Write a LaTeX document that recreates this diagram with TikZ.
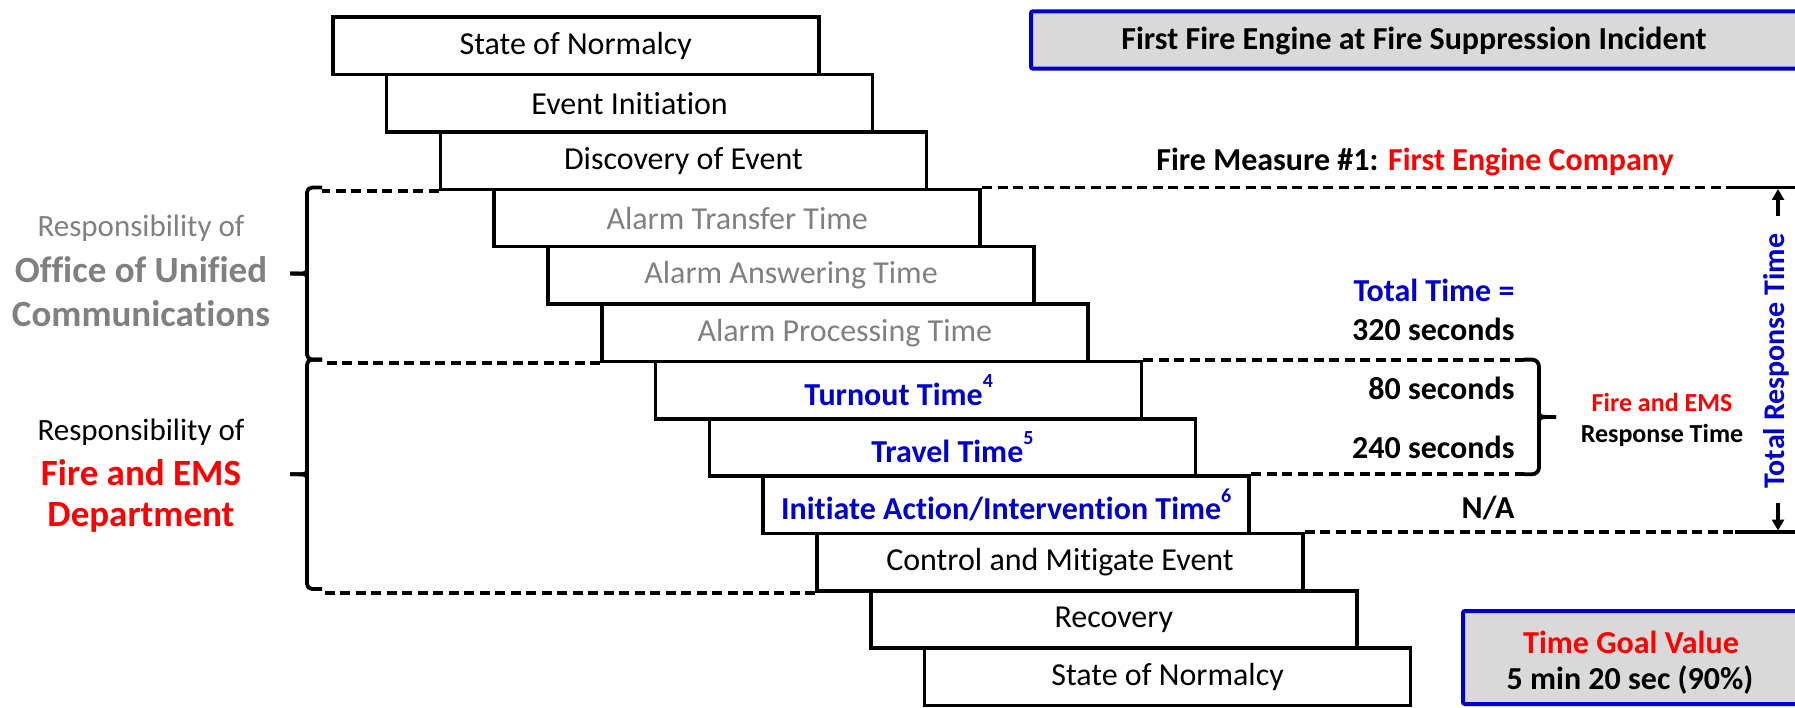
\documentclass[tikz,border=0pt]{standalone}
\usepackage{fontspec}
\setmainfont[Ligatures={NoCommon}]{Carlito}
\usetikzlibrary{arrows.meta}
\definecolor{dblue}{RGB}{0,0,204}
\definecolor{fred}{RGB}{255,0,0}
\definecolor{mgray}{RGB}{128,128,128}
\definecolor{lgray}{RGB}{217,217,217}
\newcommand{\fsz}[2]{\fontsize{#1}{#2}\selectfont}
\newcommand{\sups}[1]{\raisebox{0.55em}{\fsz{20}{20}#1}}
\begin{document}
\begin{tikzpicture}[x=1pt,y=-1pt,
  stepbox/.style={draw, line width=3.6pt, minimum width=486pt, minimum height=57.35pt,
     anchor=north west, inner sep=0pt, font=\fsz{32}{38}},
  graytxt/.style={text=mgray},
  bluetxt/.style={text=dblue, font=\fsz{32}{38}\bfseries},
  dashline/.style={line width=3.8pt, dash pattern=on 10pt off 5.5pt},
  solidline/.style={line width=3.8pt},
  bracel/.style={line width=3.8pt, rounded corners=5pt},
  infobox/.style={draw=dblue, line width=4pt, fill=lgray, rounded corners=2pt},
  bold32/.style={font=\fsz{32}{38}\bfseries},
  arr/.style={line width=3.6pt, -{Triangle[width=12pt,length=11pt]}}
]
\useasboundingbox (0,0) rectangle (1795,708);

% boxes
\node[stepbox] (b0) at (331,15.5) {State of Normalcy};
\node[stepbox] (b1) at (384.8,72.85) {Event Initiation};
\node[stepbox] (b2) at (438.6,130.2) {Discovery of Event};
\node[stepbox, graytxt] (b3) at (492.4,187.55) {Alarm Transfer Time};
\node[stepbox, graytxt] (b4) at (546.2,244.9) {Alarm Answering Time};
\node[stepbox, graytxt] (b5) at (600,302.25) {Alarm Processing Time};
\node[stepbox, bluetxt] (b6) at (653.8,359.6) {Turnout Time\sups{4}};
\node[stepbox, bluetxt] (b7) at (707.6,416.95) {Travel Time\sups{5}};
\node[stepbox, bluetxt] (b8) at (761.4,474.3) {Initiate Action/Intervention Time\sups{6}};
\node[stepbox] (b9) at (815.2,531.65) {Control and Mitigate Event};
\node[stepbox] (b10) at (869,589) {Recovery};
\node[stepbox] (b11) at (922.8,646.35) {State of Normalcy};

% helper coordinates
\coordinate (lx) at (322,0);
\coordinate (rx) at (1735,0);
\coordinate (ex) at (1795,0);
\coordinate (bx) at (1524,0);

% left dashed lines
\draw[dashline] (b2.south west) -- (b2.south west -| lx);
\draw[dashline] (b5.south west) -- (b5.south west -| lx);
\draw[dashline] (b9.south west) -- (b9.south west -| lx);

% right dashed lines
\draw[dashline] (b3.north east) -- (b3.north east -| rx);
\draw[solidline] (b3.north east -| rx) -- (b3.north east -| ex);
\draw[dashline] (b6.north east) -- (b6.north east -| bx);
\draw[dashline] (b8.north east) -- (b8.north east -| bx);
\draw[dashline] (b9.north east) -- (b9.north east -| rx);
\draw[solidline] (b9.north east -| rx) -- (b9.north east -| ex);

% left braces
\draw[bracel] (322,187.55) -- (307,187.55) -- (307,359.6) -- (322,359.6);
\draw[solidline, line cap=butt] (307,270) .. controls (306,273.6) .. (290,273.6);
\draw[solidline, line cap=butt] (307,277) .. controls (306,273.6) .. (290,273.6);
\draw[bracel] (322,359.6) -- (307,359.6) -- (307,589) -- (322,589);
\draw[solidline, line cap=butt] (307,471) .. controls (306,474.3) .. (290,474.3);
\draw[solidline, line cap=butt] (307,478) .. controls (306,474.3) .. (290,474.3);

% right brace
\draw[bracel, rounded corners=7pt] (1524,359.6) -- (1539,359.6) -- (1539,474.3) -- (1524,474.3);
\draw[solidline, line cap=butt] (1539,413) .. controls (1540,417) .. (1556,417);
\draw[solidline, line cap=butt] (1539,421) .. controls (1540,417) .. (1556,417);

% total response time arrows
\coordinate (at1) at (1778,216);
\coordinate (at2) at (1778,189);
\coordinate (ab1) at (1778,503);
\coordinate (ab2) at (1778,530.5);
\draw[arr] (at1) -- (at2);
\draw[arr] (ab1) -- (ab2);
\node[rotate=90, text=dblue, font=\fsz{30}{36}\bfseries] (trt) at (1776,361) {Total Response Time};

% left labels
\node[text=mgray, font=\fsz{31}{36}] (r1a) at (141,228) {Responsibility of};
\node[text=mgray, font=\fsz{37}{44}\bfseries] (r1b) at (141,270) {Office of Unified};
\node[text=mgray, font=\fsz{37}{44}\bfseries] (r1c) at (141,314) {Communications};
\node[font=\fsz{31}{36}] (r2a) at (141,432) {Responsibility of};
\node[text=fred, font=\fsz{37}{44}\bfseries] (r2b) at (141,473) {Fire and EMS};
\node[text=fred, font=\fsz{37}{44}\bfseries] (r2c) at (141,517) {Department};

% right labels
\node[bold32] (fm) at (1415,162) {Fire Measure \#1: \textcolor{fred}{First Engine Company}};
\node[bold32, text=dblue, anchor=east] (tt) at (1518,290) {Total Time =};
\node[bold32, anchor=east] (t320) at (1518,329) {320 seconds};
\node[bold32, anchor=east] (t80) at (1518,388) {80 seconds};
\node[bold32, anchor=east] (t240) at (1518,447) {240 seconds};
\node[bold32, anchor=east] (tna) at (1518,508) {N/A};
\node[text=fred, font=\fsz{26}{31}\bfseries] (fe1) at (1662,402) {Fire and EMS};
\node[font=\fsz{26}{31}\bfseries] (fe2) at (1662,435) {Response Time};

% title box
\draw[infobox] (1031,11.3) rectangle (1810,68.7);
\node[bold32] (title) at (1414,41) {First Fire Engine at Fire Suppression Incident};

% goal box
\draw[infobox] (1463,611) rectangle (1810,704);
\node[bold32, text=fred] (goal1) at (1631,642) {Time Goal Value};
\node[bold32] (goal2) at (1630,680) {5 min 20 sec (90\%)};
\end{tikzpicture}
\end{document}
